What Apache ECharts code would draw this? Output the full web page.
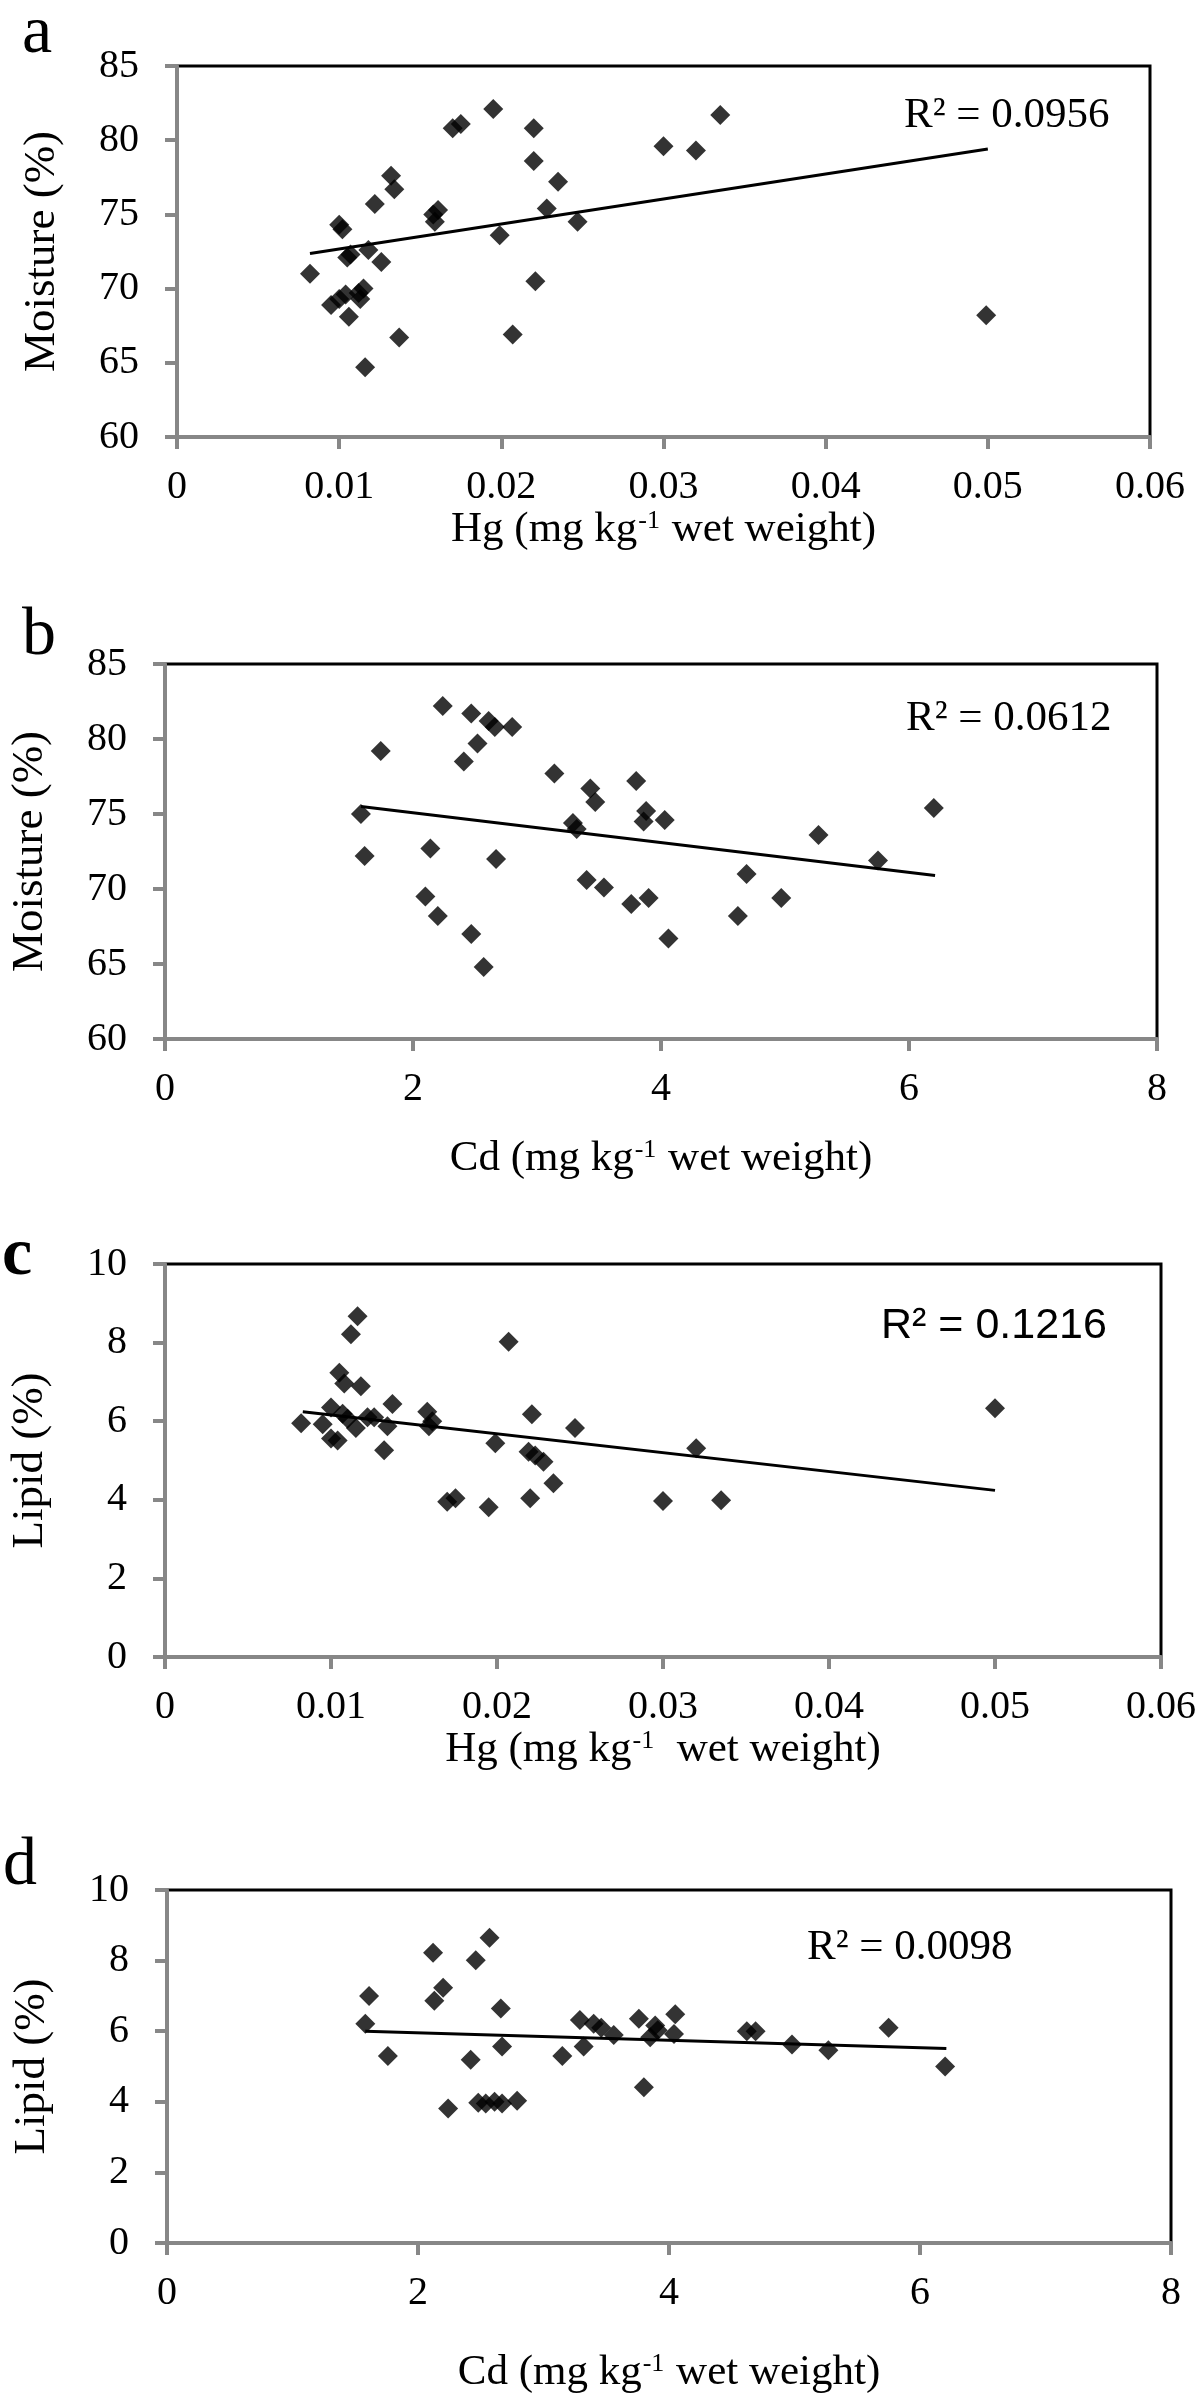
<!DOCTYPE html>
<html>
<head>
<meta charset="utf-8">
<script src="https://cdn.jsdelivr.net/npm/echarts@6/dist/echarts.min.js"></script>
<style>
  html, body { margin: 0; padding: 0; background: #fff; }
  #chart { width: 1200px; height: 2395px; }
</style>
</head>
<body>
<div id="chart"></div>
<script>
// ---------- DATA ----------
// Panel a: Hg vs Moisture
const hgA = [0.0082, 0.0095, 0.0100, 0.0102, 0.0105, 0.0107, 0.0100, 0.0104, 0.0106, 0.0113, 0.0115, 0.0112, 0.0116, 0.0118, 0.0122, 0.0126, 0.0132, 0.0134, 0.0137, 0.0159, 0.0158, 0.0161, 0.0170, 0.0175, 0.0195, 0.0199, 0.0207, 0.0220, 0.0220, 0.0221, 0.0228, 0.0235, 0.0247, 0.0300, 0.0320, 0.0335, 0.0499];
const moistA = [71.0, 68.9, 74.3, 74.0, 72.1, 72.3, 69.3, 69.6, 68.1, 69.3, 70.0, 69.7, 64.7, 72.6, 75.7, 71.8, 77.6, 76.7, 66.7, 74.5, 75.0, 75.3, 80.8, 81.1, 82.1, 73.6, 66.9, 80.8, 78.6, 70.5, 75.4, 77.2, 74.5, 79.6, 79.3, 81.7, 68.2];
const trendAx = [0.0082, 0.0500];
const trendAy = [72.36, 79.40];

// Panel b: Cd vs Moisture
const cdB = [1.58, 1.61, 1.74, 2.10, 2.14, 2.20, 2.24, 2.41, 2.47, 2.47, 2.52, 2.57, 2.61, 2.66, 2.67, 2.80, 3.14, 3.29, 3.32, 3.40, 3.43, 3.47, 3.54, 3.76, 3.80, 3.86, 3.88, 3.90, 4.03, 4.06, 4.62, 4.69, 4.97, 5.27, 5.75, 6.20];
const moistB = [75.0, 72.2, 79.2, 69.5, 72.7, 68.2, 82.2, 78.5, 67.0, 81.7, 79.7, 64.8, 81.2, 80.8, 72.0, 80.8, 77.7, 74.4, 74.0, 70.6, 76.7, 75.8, 70.1, 69.0, 77.2, 74.5, 75.2, 69.4, 74.6, 66.7, 68.2, 71.0, 69.4, 73.6, 71.9, 75.4];
const trendBx = [1.58, 6.21];
const trendBy = [75.5, 70.9];

// Panel c: Hg vs Lipid
const hgC = [0.0082, 0.0095, 0.0100, 0.0100, 0.0104, 0.0105, 0.0108, 0.0107, 0.0112, 0.0116, 0.0118, 0.0110, 0.0115, 0.0122, 0.0126, 0.0132, 0.0134, 0.0137, 0.0158, 0.0159, 0.0161, 0.0170, 0.0175, 0.0195, 0.0199, 0.0207, 0.0220, 0.0221, 0.0219, 0.0223, 0.0228, 0.0234, 0.0247, 0.0300, 0.0320, 0.0335, 0.0500];
const lipidC = [5.95, 5.92, 6.35, 5.56, 5.51, 7.23, 6.96, 6.19, 8.21, 8.67, 6.89, 6.06, 5.83, 6.10, 6.10, 5.26, 5.87, 6.44, 6.24, 5.87, 6.00, 3.95, 4.04, 3.81, 5.44, 8.02, 4.04, 6.18, 5.22, 5.13, 4.97, 4.42, 5.83, 3.97, 5.31, 3.99, 6.33];
const trendCx = [0.0083, 0.0500];
const trendCy = [6.24, 4.24];

// Panel d: Cd vs Lipid
const cdD = [1.58, 1.61, 1.76, 2.12, 2.13, 2.20, 2.24, 2.42, 2.46, 2.48, 2.54, 2.57, 2.61, 2.66, 2.67, 2.67, 2.79, 3.15, 3.29, 3.32, 3.40, 3.46, 3.56, 3.76, 3.80, 3.85, 3.89, 3.91, 4.05, 4.04, 4.62, 4.69, 4.98, 5.27, 5.75, 6.20];
const lipidD = [6.21, 7.00, 5.30, 8.22, 6.86, 7.23, 3.81, 5.19, 8.01, 3.97, 3.95, 8.65, 4.00, 6.64, 5.57, 3.95, 4.03, 5.30, 6.32, 5.57, 6.21, 6.10, 5.89, 6.35, 4.41, 5.83, 6.16, 6.03, 6.48, 5.92, 6.00, 6.00, 5.62, 5.46, 6.10, 5.00];
const trendDx = [1.58, 6.21];
const trendDy = [6.00, 5.51];

// Axis ticks
const hgTicks = [0, 0.06, 0.01];     // min, max, interval
const cdTicks = [0, 8, 2];
const moistTicks = [60, 85, 5];
const lipidTicks = [0, 10, 2];

// Labels
const panelLetters = ['a', 'b', 'c', 'd'];
const r2Labels = ['R² = 0.0956', 'R² = 0.0612', 'R² = 0.1216', 'R² = 0.0098'];
const xTitles = [
  '{t|Hg (mg kg}{s|-1}{t| wet weight)}',
  '{t|Cd (mg kg}{s|-1}{t| wet weight)}',
  '{t|Hg (mg kg}{s|-1}{t|  wet weight)}',
  '{t|Cd (mg kg}{s|-1}{t| wet weight)}'
];
const yTitles = ['Moisture (%)', 'Moisture (%)', 'Lipid (%)', 'Lipid (%)'];

// ---------- LAYOUT ----------
const SERIF = '"Liberation Serif", "Times New Roman", serif';
const SANS = '"Liberation Sans", Arial, sans-serif';
const grids = [
  { left: 177, top: 66, width: 973, height: 371 },
  { left: 165, top: 664, width: 992, height: 375 },
  { left: 159, top: 1264, width: 1002, height: 393 },
  { left: 167, top: 1890, width: 1004, height: 356 }
];
const xNameGaps = [60, 98, 60, 108];
const yNameGap = 112;
const axisGray = '#878787';

const panels = [
  { x: hgA, y: moistA, tx: trendAx, ty: trendAy, xt: hgTicks, yt: moistTicks, fmt: 'hg' },
  { x: cdB, y: moistB, tx: trendBx, ty: trendBy, xt: cdTicks, yt: moistTicks, fmt: 'int' },
  { x: hgC, y: lipidC, tx: trendCx, ty: trendCy, xt: hgTicks, yt: lipidTicks, fmt: 'hg' },
  { x: cdD, y: lipidD, tx: trendDx, ty: trendDy, xt: cdTicks, yt: lipidTicks, fmt: 'int' }
];

const option = {
  animation: false,
  backgroundColor: '#fff',
  grid: [], xAxis: [], yAxis: [], series: [], graphic: []
};

panels.forEach((p, i) => {
  option.grid.push(Object.assign({ show: true, borderColor: '#000', borderWidth: 3, backgroundColor: 'transparent', containLabel: false }, grids[i]));
  option.xAxis.push({
    gridIndex: i, type: 'value', z: 3,
    min: p.xt[0], max: p.xt[1], interval: p.xt[2],
    axisLine: { show: true, onZero: false, lineStyle: { color: axisGray, width: 4 } },
    axisTick: { show: true, length: 12, lineStyle: { color: axisGray, width: 4 } },
    splitLine: { show: false },
    axisLabel: {
      margin: 30, color: '#000', fontSize: 40, fontFamily: SERIF,
      formatter: v => p.fmt === 'hg' ? (v === 0 ? '0' : v.toFixed(2)) : String(Math.round(v))
    },
    name: xTitles[i], nameLocation: 'middle', nameGap: xNameGaps[i],
    nameTextStyle: {
      color: '#000', fontSize: 43, fontFamily: SERIF,
      rich: {
        t: { fontSize: 43, fontFamily: SERIF, color: '#000' },
        s: { fontSize: 26, fontFamily: SERIF, color: '#000', verticalAlign: 'top', padding: [0, 1, 0, 1] }
      }
    }
  });
  option.yAxis.push({
    gridIndex: i, type: 'value', z: 3,
    min: p.yt[0], max: p.yt[1], interval: p.yt[2],
    axisLine: { show: true, onZero: false, lineStyle: { color: axisGray, width: 4 } },
    axisTick: { show: true, length: 12, lineStyle: { color: axisGray, width: 4 } },
    splitLine: { show: false },
    axisLabel: { margin: 38, color: '#000', fontSize: 40, fontFamily: SERIF },
    name: yTitles[i], nameLocation: 'middle', nameGap: yNameGap,
    nameTextStyle: { color: '#000', fontSize: 45, fontFamily: SERIF }
  });
  option.series.push({
    type: 'scatter', xAxisIndex: i, yAxisIndex: i,
    symbol: 'diamond', symbolSize: 20,
    itemStyle: { color: '#000' },
    data: p.x.map((v, k) => [v, p.y[k]]),
    z: 2
  });
  option.series.push({
    type: 'line', xAxisIndex: i, yAxisIndex: i,
    showSymbol: false, symbol: 'none',
    lineStyle: { color: '#000', width: 3 },
    data: p.tx.map((v, k) => [v, p.ty[k]]),
    z: 3
  });
});

// R² labels and panel letters
const r2Pos = [[904, 116, SERIF], [906, 719, SERIF], [881, 1326, SANS], [807, 1948, SERIF]];
r2Pos.forEach((pp, i) => {
  option.graphic.push({
    type: 'text', x: pp[0], y: pp[1], z: 10,
    style: {
      text: r2Labels[i], font: '43px ' + pp[2], fill: '#000',
      align: 'left', verticalAlign: 'middle', textAlign: 'left', textVerticalAlign: 'middle'
    }
  });
});
const letterPos = [[37, 34, 'normal'], [39, 636, 'normal'], [17, 1256, 'bold'], [20, 1866, 'normal']];
letterPos.forEach((pp, i) => {
  option.graphic.push({
    type: 'text', x: pp[0], y: pp[1], z: 10,
    style: {
      text: panelLetters[i], font: pp[2] + ' 68px ' + SERIF, fill: '#000',
      align: 'center', verticalAlign: 'middle', textAlign: 'center', textVerticalAlign: 'middle'
    }
  });
});

const chart = echarts.init(document.getElementById('chart'), null, { renderer: 'canvas' });
chart.setOption(option);
</script>
</body>
</html>
